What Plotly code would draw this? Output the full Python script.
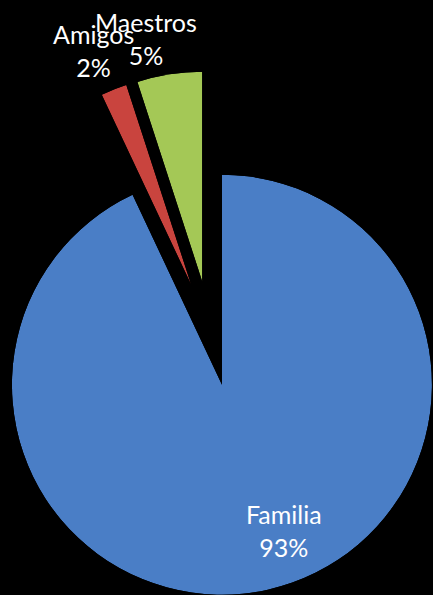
import math
import plotly.graph_objects as go

# chart data
labels = ["Familia", "Amigos", "Maestros"]
values = [93, 2, 5]
colors = ["#4a7ec6", "#c9443e", "#a4c856"]

# figure / pie geometry in pixels
W, H = 433, 595
CX, CY = 210.5, 333.5   # centre of the unexploded pie
R = 210                  # radius
PULL = 52.5              # explode distance of every slice

# label positions (px) for each slice
label_pos = [(284, 530), (93, 50), (146, 38)]


def sector_bbox(a0, a1):
    """bbox (unit radius) of a pie sector a0..a1, ccw degrees, 0 = east"""
    pts = [(0.0, 0.0)]
    for a in (a0, a1):
        pts.append((math.cos(math.radians(a)), math.sin(math.radians(a))))
    k = math.floor(a0 / 90) * 90
    while k <= a1:
        if a0 < k < a1:
            pts.append((math.cos(math.radians(k)), math.sin(math.radians(k))))
        k += 90
    xs = [p[0] for p in pts]
    ys = [p[1] for p in pts]
    return min(xs), min(ys), max(xs), max(ys)


def clamp(v):
    return max(0.0, min(1.0, v))


fig = go.Figure()
layout_polars = {}
total = sum(values)
start = 0.0
for i, (lab, val, col) in enumerate(zip(labels, values, colors)):
    span = val / total * 360.0
    mid = start + span / 2
    # exploded centre of this slice
    cx = CX + PULL * math.sin(math.radians(mid))
    cy = CY - PULL * math.cos(math.radians(mid))
    # sector in layout angles (theta clockwise from north)
    sec = [90 - (start + span), 90 - start]
    bx0, by0, bx1, by1 = sector_bbox(*sec)
    dom_x = [clamp((cx + R * bx0) / W), clamp((cx + R * bx1) / W)]
    dom_y = [clamp(1 - (cy - R * by0) / H), clamp(1 - (cy - R * by1) / H)]

    name = "polar" if i == 0 else f"polar{i + 1}"
    fig.add_trace(go.Barpolar(
        r=[1], theta=[mid], width=[span],
        marker=dict(color=col, line=dict(width=0)),
        name=lab, subplot=name, hoverinfo="name",
    ))
    layout_polars[name] = dict(
        domain=dict(x=dom_x, y=dom_y),
        sector=sec,
        bgcolor="rgba(0,0,0,0)",
        radialaxis=dict(range=[0, 1], visible=False, showgrid=False,
                        showline=False, showticklabels=False, ticks=""),
        angularaxis=dict(rotation=90, direction="clockwise", visible=False,
                         showgrid=False, showline=False,
                         showticklabels=False, ticks=""),
    )
    start += span

annotations = []
for lab, val, (px, py) in zip(labels, values, label_pos):
    annotations.append(dict(
        text=f"{lab}<br>{val}%", xref="paper", yref="paper",
        x=px / W, y=1 - py / H, xanchor="center", yanchor="middle",
        showarrow=False, font=dict(family="Lato", size=25, color="white"),
    ))

fig.update_layout(
    width=W, height=H,
    margin=dict(l=0, r=0, t=0, b=0),
    paper_bgcolor="black", plot_bgcolor="black",
    showlegend=False,
    annotations=annotations,
    **layout_polars,
)

# drop the default page margin so the chart fills the window
fig.write_html(
    "out.html",
    config={"displayModeBar": False},
    post_script="document.body.style.margin='0';"
                "document.body.style.background='black';",
)
